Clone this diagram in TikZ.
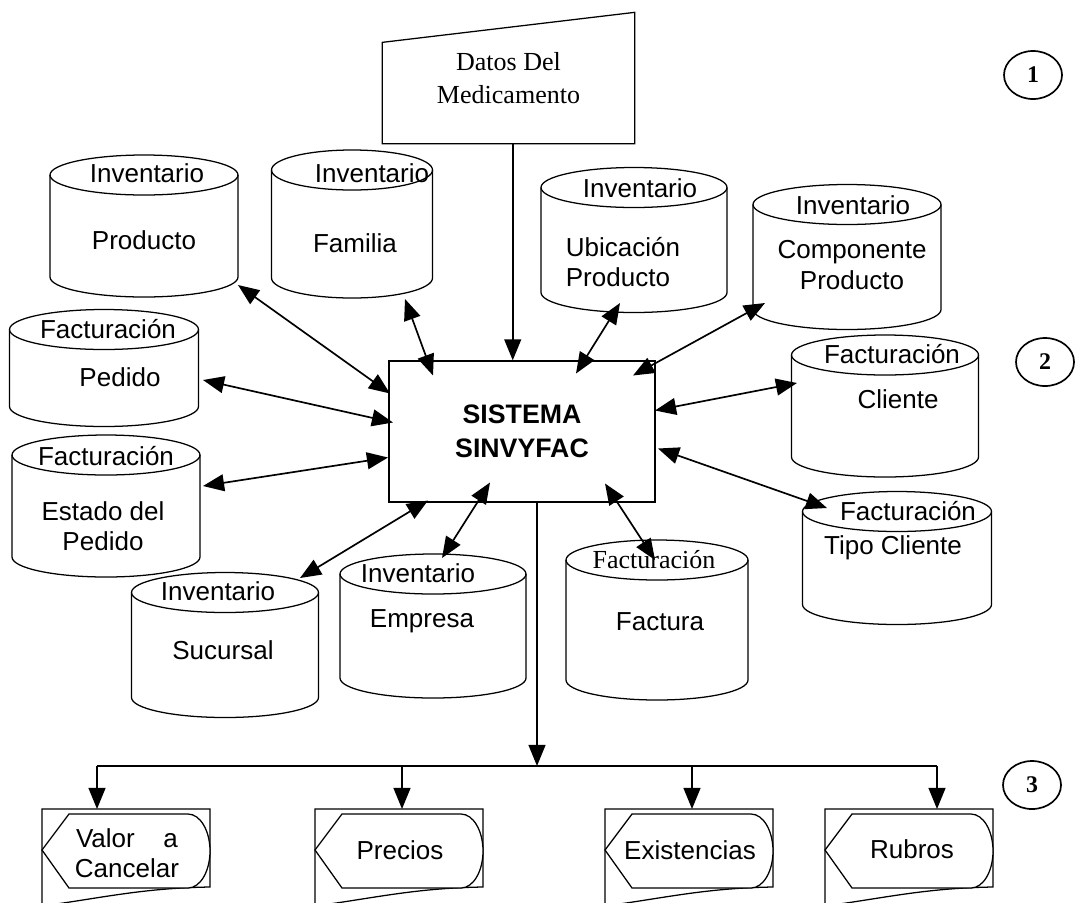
\documentclass[tikz,border=0pt]{standalone}
\usepackage{fontspec}
\setmainfont{Liberation Sans}
\newfontfamily\serifa{Liberation Serif}
\usetikzlibrary{arrows.meta,shapes.geometric}

\begin{document}
\begin{tikzpicture}[x=0.025cm,y=0.025cm,line width=0.9pt,
  texto/.style={font=\fontsize{18.5}{21.5}\selectfont,align=center,inner sep=1pt},
  flecha/.style={-{Triangle[length=15pt,width=12pt]},line width=1.2pt},
  doble/.style={{Triangle[length=15pt,width=12pt]}-{Triangle[length=15pt,width=12pt]},line width=1.2pt},
  circulo/.style={draw,ellipse,minimum width=1.45cm,minimum height=1.2cm,inner sep=0pt,line width=1.2pt,font=\serifa\bfseries\fontsize{17}{17}\selectfont}]

\useasboundingbox (0,0) rectangle (1075,-902);

% Bases de datos
\foreach \nombre/\cx/\cy/\w/\h in {prod/144/-226/188/142, fam/352/-224/161/148, ubic/634/-240/186/145, comp/847/-257/188/145, ped/104/-368/189/117, est/106/-506/188/142, cli/885/-406/187/142, tipo/897/-558/189/133, suc/225/-645/187/145, emp/433/-626/186/144, fact/657/-620/182/160}
{
  \node[minimum width=\w*0.025cm,minimum height=\h*0.025cm,inner sep=0pt] (\nombre) at (\cx,\cy) {};
  \draw (\cx-\w/2,\cy+\h/2-20) -- (\cx-\w/2,\cy-\h/2+20) arc[start angle=180,end angle=360,x radius=\w/2,y radius=20] -- (\cx+\w/2,\cy+\h/2-20) arc[start angle=0,end angle=180,x radius=\w/2,y radius=20] -- cycle;
  \draw (\cx-\w/2,\cy+\h/2-20) arc[start angle=180,end angle=360,x radius=\w/2,y radius=20];
}

\node[texto] (prodtit) at (147,-173) {Inventario};
\node[texto] (prodtxt) at (144,-240) {Producto};
\node[texto] (famtit) at (372,-173) {Inventario};
\node[texto] (famtxt) at (355,-243) {Familia};
\node[texto] (ubictit) at (640,-188) {Inventario};
\node[texto,align=left] (ubictxt) at (623,-262) {Ubicación\\Producto};
\node[texto] (comptit) at (853,-205) {Inventario};
\node[texto] (comptxt) at (852,-265) {Componente\\Producto};
\node[texto] (pedtit) at (108,-329) {Facturación};
\node[texto] (pedtxt) at (120,-377) {Pedido};
\node[texto] (esttit) at (106,-456) {Facturación};
\node[texto] (esttxt) at (103,-526) {Estado del\\Pedido};
\node[texto] (clitit) at (892,-354) {Facturación};
\node[texto] (clitxt) at (898,-399) {Cliente};
\node[texto] (tipotit) at (908,-511) {Facturación};
\node[texto] (tipotxt) at (893,-548) {Tipo Cliente};
\node[texto] (suctit) at (218,-591) {Inventario};
\node[texto] (suctxt) at (223,-650) {Sucursal};
\node[texto] (emptit) at (418,-573) {Inventario};
\node[texto] (emptxt) at (422,-621) {Empresa};
\node[texto,font=\serifa\fontsize{18.5}{21.5}\selectfont] (facttit) at (654,-560) {Facturación};
\node[texto] (facttxt) at (660,-622) {Factura};

% Sistema y entrada manual
\node[draw,texto,font=\fontsize{19}{24}\selectfont\bfseries,minimum width=6.65cm,minimum height=3.525cm] (sis) at (522,-431.5) {SISTEMA\\SINVYFAC};

\node[texto,font=\serifa\fontsize{18.5}{23}\selectfont,minimum width=6.275cm,minimum height=3.25cm] (datos) at (508.5,-78) {Datos Del\\Medicamento};
\draw (datos.south west) -- (datos.south east) -- (datos.north east) -- ([shift={(0,-30)}]datos.north west) -- cycle;
\draw[flecha] ([xshift=3pt]datos.south) -- ([xshift=3pt]datos.south |- sis.north);

% Flechas dobles
\foreach \nombre/\a/\b/\c/\d in {prod/94/-59/-132/38, fam/53/-75/-89/56, ubic/-14/-63/54/58, comp/-82/-46/111/56, ped/99/-12/-129/9, est/97/20/-134/-26, cli/-88/23/133/21, tipo/-70/50/136/-17, suc/75/67/-94/-69, emp/9/68/-32/-51, fact/-2/60/83/-52}
  \draw[doble] ([shift={(\a,\b)}]\nombre.center) -- ([shift={(\c,\d)}]sis.center);

% -------------------------------------------
% Salidas
\coordinate (bus) at (537,-766);
\draw[flecha] (sis.south -| bus) -- (bus);

\foreach \izq/\ax [count=\i] in {42/97,315/402,605/692,825/937}
{
  \draw (\izq,-809) -- (\izq+168,-809) -- (\izq+168,-887) .. controls (\izq+100,-888) and (\izq+60,-898) .. (\izq,-906) -- cycle;
  \draw[fill=white] (\izq,-850) -- (\izq+27,-814) -- (\izq+146,-814) arc[start angle=90,end angle=-90,x radius=22,y radius=37] -- (\izq+27,-888) -- cycle;
  \coordinate (e\i) at (\ax,-809);
}
\draw[line width=1.2pt] (e1 |- bus) -- (e4 |- bus);
\foreach \i in {1,...,4}
  \draw[flecha] (e\i |- bus) -- (e\i);

\node[texto] (sal1) at (127,-853) {Valor\hspace{1.1em}a\\Cancelar};
\node[texto] (sal2) at (400,-850) {Precios};
\node[texto] (sal3) at (690,-850) {Existencias};
\node[texto] (sal4) at (912,-849) {Rubros};

% Niveles
\node[circulo] (n1) at (1033,-75) {1};
\node[circulo] (n2) at (1045,-362) {2};
\node[circulo] (n3) at (1032,-785) {3};

\end{tikzpicture}
\end{document}
